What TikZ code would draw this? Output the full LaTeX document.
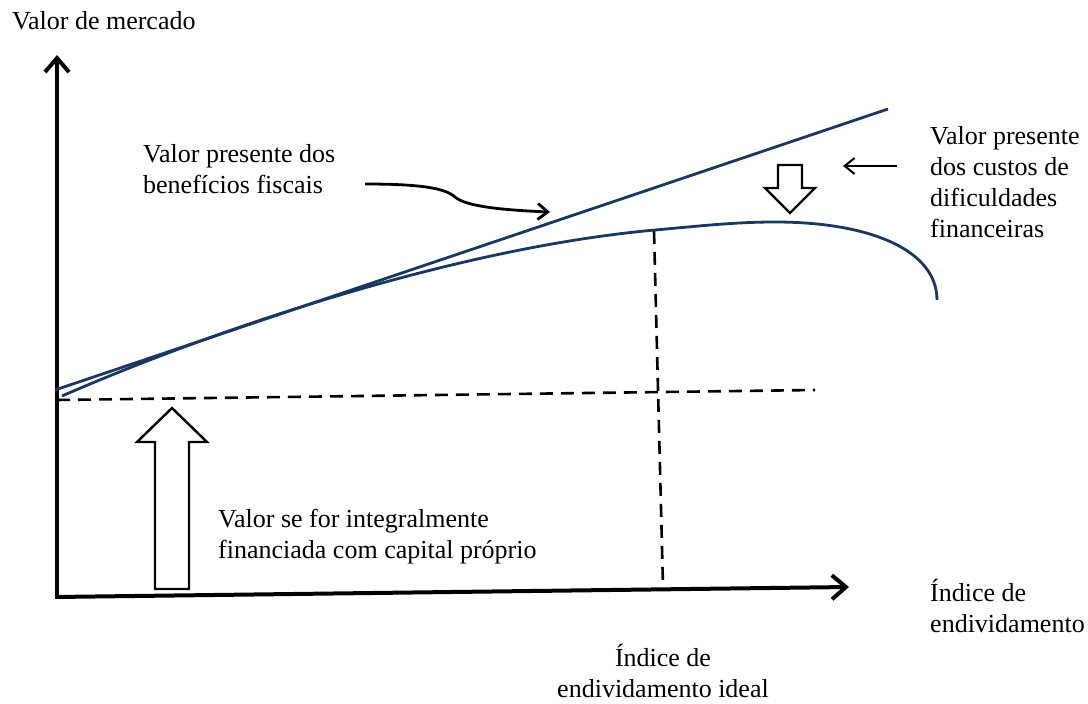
\documentclass[tikz,border=0pt]{standalone}
\usepackage{fontspec}
\setmainfont{Liberation Serif}
\usetikzlibrary{arrows.meta}
\definecolor{navy}{RGB}{25,55,95}
\tikzset{
  axis/.style={line width=4pt, -{Straight Barb[length=14pt,width=24pt]}},
  guide/.style={line width=2.6pt, dash pattern=on 13pt off 8pt},
  curveline/.style={navy, line width=2.8pt},
  lbl/.style={inner sep=0pt, font=\fontsize{26}{31}\selectfont},
  blockarrow/.style={draw=black, fill=white, line width=2.4pt, line join=miter},
  pointer/.style={line width=2.8pt, -{Straight Barb[length=10pt,width=16pt]}},
  thinpointer/.style={line width=2pt, -{Straight Barb[length=10pt,width=16pt]}}
}
\begin{document}
\begin{tikzpicture}[x=1pt,y=-1pt]
\useasboundingbox (0,0) rectangle (1088,704);
% coordinates
\coordinate (O) at (57,597);
\coordinate (ytip) at (57,55);
\coordinate (xtip) at (849,587);
\coordinate (hd0) at (57,400);
\coordinate (hd1) at (815,390);
\coordinate (vd0) at (654,231);
\coordinate (vd1) at (663,587);
\coordinate (ln0) at (55,390);
\coordinate (ln1) at (888,109);
% axes
\draw[axis] ([yshift=2pt]O) -- (ytip);
\draw[axis] ([xshift=-2pt]O) -- (xtip);
% dashed guides
\draw[guide] (hd0) -- (hd1);
\draw[guide] (vd0) -- (vd1);
% straight line (value with tax benefits)
\draw[curveline] (ln0) -- (ln1);
% curve (value with distress costs)
\draw[curveline] (62,396) .. controls (213,330) and (455,248) .. (655,230)
  .. controls (700,226) and (735,222) .. (775,222)
  .. controls (870,222) and (937,250) .. (937,300);
% block arrows
\draw[blockarrow] (155,589) -- (155,442) -- (137,442) -- (172,408) -- (207,442) -- (189,442) -- (189,589) -- cycle;
\draw[blockarrow] (778,165) -- (802,165) -- (802,188) -- (815,188) -- (790,213) -- (765,188) -- (778,188) -- cycle;
% labels (base anchor = baseline of the last line)
\node[lbl, anchor=base west] (ymark) at (12,29) {Valor de mercado};
\node[lbl, anchor=base west, align=left] (tax) at (143,193) {Valor presente dos\\benefícios fiscais};
\node[lbl, anchor=base west, align=left] (dist) at (930,237) {Valor presente\\dos custos de\\dificuldades\\financeiras};
\node[lbl, anchor=base west, align=left] (equity) at (218,558) {Valor se for integralmente\\financiada com capital próprio};
\node[lbl, anchor=base west, align=left] (xmark) at (930,632) {Índice de\\endividamento};
\node[lbl, anchor=base, align=center] (ideal) at (663,697) {Índice de\\endividamento ideal};
% pointers
\coordinate (c0) at (365,184);
\coordinate (c1) at (455,197);
\coordinate (c2) at (550,212);
\draw[pointer] (c0) .. controls (420,184) and (445,188) .. (c1) .. controls (465,206) and (500,210) .. (c2);
\coordinate (p0) at (897,166);
\coordinate (p1) at (843,166);
\draw[thinpointer] (p0) -- (p1);
\end{tikzpicture}
\end{document}
